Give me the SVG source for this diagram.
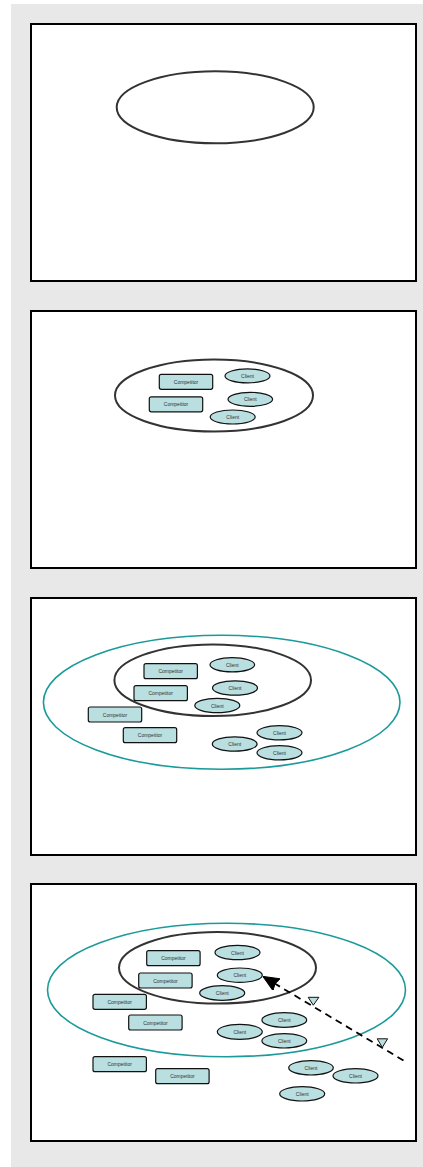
<svg xmlns="http://www.w3.org/2000/svg" width="423" height="1167" viewBox="0 0 423 1167">
<defs>
<style>
.bg{fill:#e8e8e8}
.panel{fill:#fff;stroke:#000;stroke-width:2}
.inner{fill:none;stroke:#333;stroke-width:2}
.outer{fill:none;stroke:#1a9a9a;stroke-width:1.6}
.comp rect,.client ellipse{fill:#b9dfe0;stroke:#111;stroke-width:1.2}
.comp text,.client text{font-family:"Liberation Sans",Arial,sans-serif;font-size:5px;fill:#333;text-anchor:middle;dominant-baseline:central}
.dash{fill:none;stroke:#000;stroke-width:1.8;stroke-dasharray:7,5}
.tri{fill:#b9dfe0;stroke:#111;stroke-width:1}
</style>
<marker id="arrow" viewBox="0 0 16 14" refX="15" refY="7" markerWidth="16" markerHeight="14" markerUnits="userSpaceOnUse" orient="auto">
<path d="M0,0 L16,7 L0,14 L2,7 Z" fill="#000" stroke="#000" stroke-width="1"/>
</marker>
</defs>
<rect class="bg" x="11" y="4" width="412" height="1163"/>

<!-- Panel 1 -->
<g id="panel1">
<rect class="panel" x="31" y="24" width="385" height="257"/>
<ellipse id="p1-market" class="inner" cx="215.2" cy="107.3" rx="98.5" ry="36"/>
</g>

<!-- Panel 2 -->
<g id="panel2">
<rect class="panel" x="31" y="311" width="385" height="257"/>
<ellipse id="p2-market" class="inner" cx="214" cy="395.5" rx="99" ry="36"/>
<g id="p2-comp1" class="comp"><rect x="159.3" y="374.3" width="53.4" height="15" rx="2"/><text x="186" y="381.8">Competitor</text></g>
<g id="p2-comp2" class="comp"><rect x="149.3" y="396.8" width="53.4" height="15" rx="2"/><text x="176" y="404.3">Competitor</text></g>
<g id="p2-client1" class="client"><ellipse cx="247.5" cy="375.9" rx="22.5" ry="7"/><text x="247.5" y="375.9">Client</text></g>
<g id="p2-client2" class="client"><ellipse cx="250.3" cy="399.3" rx="22.3" ry="7"/><text x="250.3" y="399.3">Client</text></g>
<g id="p2-client3" class="client"><ellipse cx="232.7" cy="417" rx="22.5" ry="7"/><text x="232.7" y="417">Client</text></g>
</g>

<!-- Panel 3 -->
<g id="panel3">
<rect class="panel" x="31" y="598" width="385" height="257"/>
<ellipse id="p3-wider" class="outer" cx="221.7" cy="702.3" rx="178.3" ry="67"/>
<ellipse id="p3-market" class="inner" cx="212.7" cy="680.2" rx="98.3" ry="35.8"/>
<g id="p3-comp1" class="comp"><rect x="144" y="663.7" width="53.4" height="15" rx="2"/><text x="170.7" y="671.2">Competitor</text></g>
<g id="p3-comp2" class="comp"><rect x="134" y="685.7" width="53.4" height="15" rx="2"/><text x="160.7" y="693.2">Competitor</text></g>
<g id="p3-comp3" class="comp"><rect x="88.3" y="707" width="53.4" height="15" rx="2"/><text x="115" y="714.5">Competitor</text></g>
<g id="p3-comp4" class="comp"><rect x="123.3" y="727.7" width="53.4" height="15" rx="2"/><text x="150" y="735.2">Competitor</text></g>
<g id="p3-client1" class="client"><ellipse cx="232.3" cy="664.8" rx="22.3" ry="7.1"/><text x="232.3" y="664.8">Client</text></g>
<g id="p3-client2" class="client"><ellipse cx="235" cy="688" rx="22.5" ry="7.2"/><text x="235" y="688">Client</text></g>
<g id="p3-client3" class="client"><ellipse cx="217.3" cy="705.5" rx="22.5" ry="7.2"/><text x="217.3" y="705.5">Client</text></g>
<g id="p3-client4" class="client"><ellipse cx="279.5" cy="732.8" rx="22.5" ry="7.1"/><text x="279.5" y="732.8">Client</text></g>
<g id="p3-client5" class="client"><ellipse cx="234.7" cy="744" rx="22.4" ry="7.2"/><text x="234.7" y="744">Client</text></g>
<g id="p3-client6" class="client"><ellipse cx="279.5" cy="752.8" rx="22.5" ry="7.1"/><text x="279.5" y="752.8">Client</text></g>
</g>

<!-- Panel 4 -->
<g id="panel4">
<rect class="panel" x="31" y="884" width="385" height="257"/>
<ellipse id="p4-wider" class="outer" cx="226.5" cy="990" rx="179" ry="66.7"/>
<ellipse id="p4-market" class="inner" cx="217.5" cy="967.8" rx="98.5" ry="35.8"/>
<g id="p4-comp1" class="comp"><rect x="146.7" y="950.7" width="53.4" height="15" rx="2"/><text x="173.4" y="958.2">Competitor</text></g>
<g id="p4-comp2" class="comp"><rect x="138.7" y="973" width="53.4" height="15" rx="2"/><text x="165.4" y="980.5">Competitor</text></g>
<g id="p4-comp3" class="comp"><rect x="93" y="994.3" width="53.4" height="15" rx="2"/><text x="119.7" y="1001.8">Competitor</text></g>
<g id="p4-comp4" class="comp"><rect x="128.7" y="1015" width="53.4" height="15" rx="2"/><text x="155.4" y="1022.5">Competitor</text></g>
<g id="p4-comp5" class="comp"><rect x="93" y="1056.7" width="53.4" height="15" rx="2"/><text x="119.7" y="1064.2">Competitor</text></g>
<g id="p4-comp6" class="comp"><rect x="155.7" y="1068.7" width="53.4" height="15" rx="2"/><text x="182.4" y="1076.2">Competitor</text></g>
<g id="p4-client1" class="client"><ellipse cx="237.5" cy="952.5" rx="22.5" ry="7.2"/><text x="237.5" y="952.5">Client</text></g>
<g id="p4-client2" class="client"><ellipse cx="239.8" cy="975.2" rx="22.5" ry="7.2"/><text x="239.8" y="975.2">Client</text></g>
<g id="p4-client3" class="client"><ellipse cx="222.2" cy="993" rx="22.5" ry="7.3"/><text x="222.2" y="993">Client</text></g>
<g id="p4-client4" class="client"><ellipse cx="284.3" cy="1020" rx="22.4" ry="7.3"/><text x="284.3" y="1020">Client</text></g>
<g id="p4-client5" class="client"><ellipse cx="239.8" cy="1031.8" rx="22.5" ry="7.5"/><text x="239.8" y="1031.8">Client</text></g>
<g id="p4-client6" class="client"><ellipse cx="284.3" cy="1040.8" rx="22.4" ry="7.2"/><text x="284.3" y="1040.8">Client</text></g>
<g id="p4-client7" class="client"><ellipse cx="311" cy="1067.8" rx="22.3" ry="7.2"/><text x="311" y="1067.8">Client</text></g>
<g id="p4-client8" class="client"><ellipse cx="355.5" cy="1075.8" rx="22.5" ry="7.2"/><text x="355.5" y="1075.8">Client</text></g>
<g id="p4-client9" class="client"><ellipse cx="302.2" cy="1093.8" rx="22.5" ry="7.2"/><text x="302.2" y="1093.8">Client</text></g>
</g>

<!-- Connectors -->
<g id="connectors">
<path class="dash" d="M403.5,1060.5 L263.8,977" marker-end="url(#arrow)"/>
<polygon class="tri" points="308.2,997.3 318.9,997.3 313.3,1005.2"/>
<polygon class="tri" points="377.2,1038.8 387.6,1038.8 382.3,1047.4"/>
</g>
</svg>
